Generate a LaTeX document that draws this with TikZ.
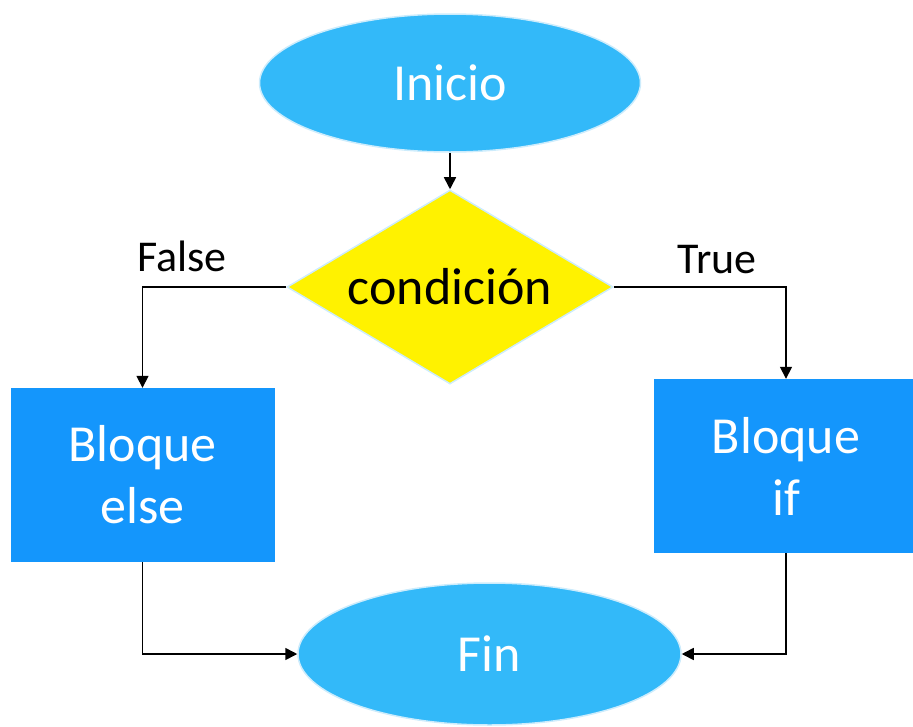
\documentclass[tikz,border=0pt]{standalone}
\usepackage{fontspec}
\setmainfont{Carlito}
\usetikzlibrary{arrows.meta,positioning,shapes.geometric}

\definecolor{skyblue}{RGB}{51,185,249}
\definecolor{boxblue}{RGB}{20,150,252}
\definecolor{glow}{RGB}{205,236,252}

\begin{document}
\begin{tikzpicture}[
  x=1pt, y=-1pt,
  term/.style={ellipse,fill=skyblue,draw=glow,line width=1.5pt,inner sep=0pt,
    minimum width=381pt,minimum height=138pt,text=white,font=\fontsize{52}{62}\selectfont},
  cond/.style={diamond,fill=yellow,draw=glow,line width=1.5pt,inner sep=0pt,aspect=1.68,
    minimum width=326pt,minimum height=194pt,font=\fontsize{52}{62}\selectfont},
  block/.style={rectangle,fill=boxblue,inner sep=0pt,align=center,text=white,
    minimum width=264pt,minimum height=174pt,font=\fontsize{52}{62}\selectfont},
  lbl/.style={font=\fontsize{44}{53}\selectfont},
  arr/.style={-{Triangle[length=12pt,width=12pt]},line width=1.6pt}
]
\useasboundingbox (0,0) rectangle (913,726);

\node[term] (inicio) at (450,83) {Inicio};
\node[cond] (decision) at (450,287) {condición};
\node[block] (belse) at (142.5,475) {Bloque\\else};
\node[block] (bif) at (786,466) {Bloque\\if};
\node[term,minimum width=383pt,minimum height=142pt] (fin) at (489.5,654) {Fin};

\node[lbl] (lfalse) at (182,256) {False};
\node[lbl] (ltrue) at (717,260) {True};

\draw[arr] (inicio) -- (decision);
\draw[arr] (decision.west) -| (belse.north);
\draw[arr] (decision.east) -| (bif.north);
\draw[arr] (belse.south) |- (fin.west);
\draw[arr] (bif.south) |- (fin.east);
\end{tikzpicture}
\end{document}
